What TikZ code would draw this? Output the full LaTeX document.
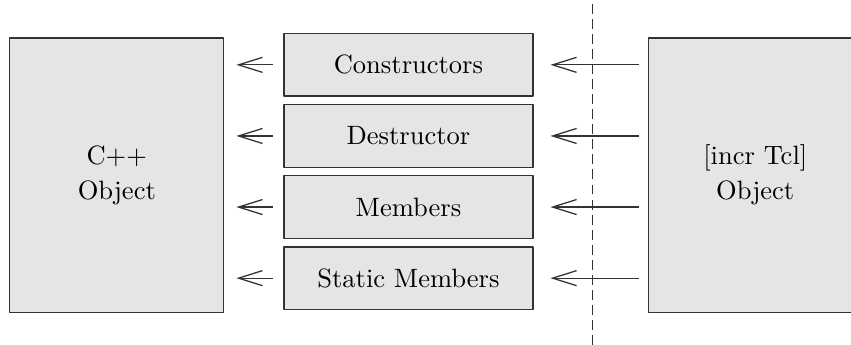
\documentclass[tikz,border=0pt]{standalone}
\usetikzlibrary{arrows.meta}
\begin{document}
\begin{tikzpicture}[font=\fontsize{10.4}{13.8}\selectfont,line join=round,line width=0.5pt,
 >={Straight Barb[length=9.4pt,width=5.9pt]},
 box/.style={draw=black!80,fill=gray!20,inner sep=0pt},
 part/.style={box,minimum width=3.43cm,minimum height=0.86cm},
 big/.style={box,minimum width=2.95cm,minimum height=3.78cm,align=center}]
 \def\xmax{11.73}\def\ymax{4.754}
 \useasboundingbox (0,0) rectangle (\xmax,\ymax);
 \node[big] (cpp) at (1.61,2.34) {C++\\Object};
 \node[big] (itcl) at (10.41,2.34) {[incr Tcl]\\Object};
 \draw[black!80,dash pattern=on 3.9pt off 2pt] (8.17,0)--(8.17,\ymax);
 \foreach \i/\t in {1/Constructors,2/Destructor,3/Members,4/Static Members}{
  \node[part] (m\i) at (5.63,{4.84-0.98*\i}) {\t};
  \draw[->,black!80,shorten <=0.14cm,shorten >=0.165cm] (m\i.west)--(m\i.west-|cpp.east);
  \draw[->,black!80,shorten <=0.124cm,shorten >=0.234cm] (m\i.east-|itcl.west)--(m\i.east);
 }
\end{tikzpicture}
\end{document}
